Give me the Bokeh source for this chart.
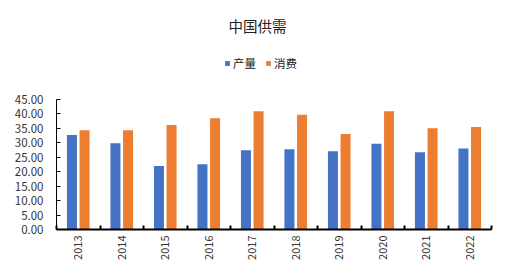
import numpy as np
from bokeh.plotting import figure
from bokeh.models import (Range1d, FixedTicker, NumeralTickFormatter, Legend,
                          LegendItem, Label, ColumnDataSource)
from bokeh.embed import file_html
from bokeh.resources import INLINE

title_text = "中国供需"
years = ["2013", "2014", "2015", "2016", "2017", "2018", "2019", "2020", "2021", "2022"]
production = [32.6, 29.8, 21.9, 22.5, 27.4, 27.7, 27.0, 29.6, 26.7, 28.0]
consumption = [34.3, 34.3, 36.1, 38.4, 40.8, 39.6, 33.0, 40.8, 35.0, 35.4]
series_names = ["产量", "消费"]
y_ticks = [0, 5, 10, 15, 20, 25, 30, 35, 40, 45]

FONT = "Noto Sans CJK SC"
BLUE = "#4472C4"
ORANGE = "#ED7D31"

n = len(years)
centers = np.arange(n) + 0.5
src = ColumnDataSource(dict(
    xp=centers - 0.145, xc=centers + 0.145,
    prod=production, cons=consumption))

# frame spans the full height above the x axis; value axis drawn only 0..45
y_top = 45 * 229 / 130.3
p = figure(width=514, height=277, output_backend="svg", toolbar_location=None,
           x_range=Range1d(0, n), y_range=Range1d(0, y_top),
           min_border_left=56, min_border_right=23,
           min_border_top=0, min_border_bottom=48)
p.outline_line_color = None
p.xgrid.visible = False
p.ygrid.visible = False
p.background_fill_color = "white"
p.border_fill_color = "white"

r1 = p.vbar(x="xp", top="prod", width=0.23, source=src, fill_color=BLUE, line_color=None)
r2 = p.vbar(x="xc", top="cons", width=0.23, source=src, fill_color=ORANGE, line_color=None)

# x axis
xa = p.xaxis[0]
xa.ticker = FixedTicker(ticks=list(centers), minor_ticks=list(range(n + 1)))
xa.major_label_overrides = {float(c): y for c, y in zip(centers, years)}
xa.major_tick_in = 0
xa.major_tick_out = 0
xa.minor_tick_in = 4
xa.minor_tick_out = 0
xa.minor_tick_line_color = "black"
xa.minor_tick_line_width = 2
xa.axis_line_color = "black"
xa.axis_line_width = 2
xa.major_label_orientation = np.pi / 2
xa.major_label_text_font = FONT
xa.major_label_text_font_size = "11px"
xa.major_label_text_color = "#333333"
xa.major_label_standoff = 6

# y axis
ya = p.yaxis[0]
ya.ticker = FixedTicker(ticks=y_ticks)
ya.bounds = (0, 45)
ya.formatter = NumeralTickFormatter(format="0.00")
ya.major_tick_in = 4
ya.major_tick_out = 0
ya.minor_tick_in = 0
ya.minor_tick_out = 0
ya.major_tick_line_color = "black"
ya.axis_line_color = "black"
ya.axis_line_width = 1
ya.major_label_text_font = FONT
ya.major_label_text_font_size = "11.5px"
ya.major_label_text_color = "#333333"
ya.major_label_standoff = 13

# title
p.add_layout(Label(x=201, y=204, x_units="screen", y_units="screen", text=title_text,
                   text_font=FONT, text_font_size="14.5px", text_color="#222222",
                   text_align="center", text_baseline="middle"))

legend = Legend(items=[LegendItem(label=series_names[0], renderers=[r1]),
                       LegendItem(label=series_names[1], renderers=[r2])],
                orientation="horizontal", location=(168, 158),
                glyph_width=6, glyph_height=6, label_standoff=3, spacing=9,
                padding=0, margin=0, border_line_color=None,
                background_fill_alpha=0,
                label_text_font=FONT, label_text_font_size="11.5px",
                label_text_color="#222222", label_height=14)
p.add_layout(legend)

open("out.html", "w").write(file_html(p, INLINE))
